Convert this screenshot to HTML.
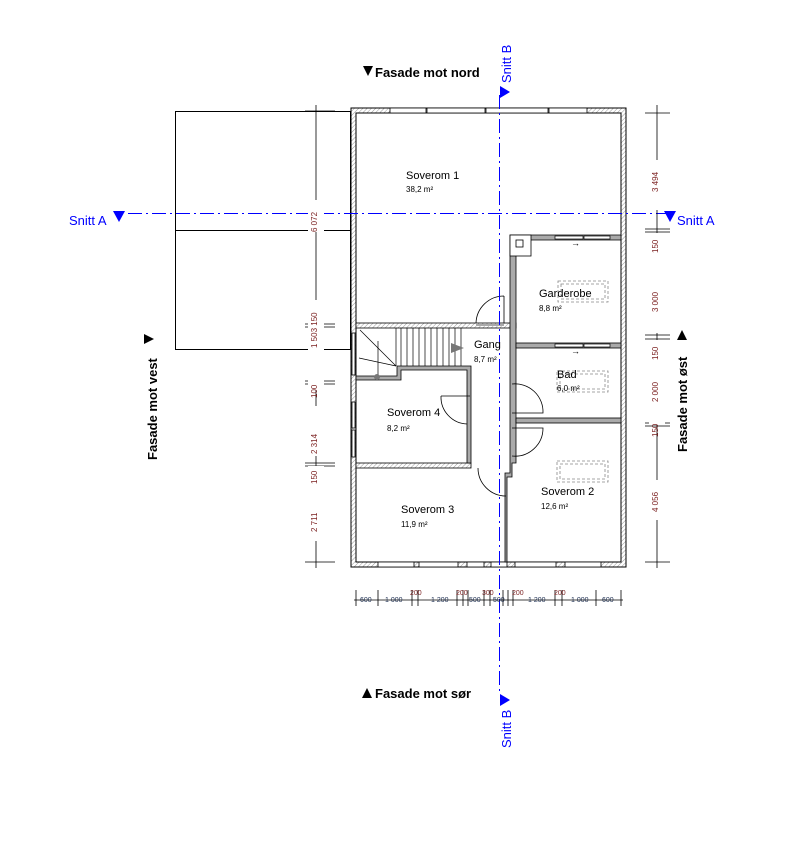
<!DOCTYPE html>
<html><head><meta charset="utf-8"><style>
html,body{margin:0;padding:0;background:#fff}
svg{display:block}
text{font-family:"Liberation Sans",sans-serif}
</style></head><body>
<svg width="787" height="859" viewBox="0 0 787 859" xmlns="http://www.w3.org/2000/svg">
<defs>
<pattern id="h" width="3" height="3" patternUnits="userSpaceOnUse" patternTransform="rotate(45)"><rect width="3" height="3" fill="#fff"/><line x1="0" y1="0" x2="0" y2="3" stroke="#999" stroke-width="1"/></pattern>
</defs>
<!-- left block -->
<rect x="175.5" y="111.5" width="175" height="238" fill="none" stroke="#000"/>
<line x1="175" y1="230.5" x2="351" y2="230.5" stroke="#000"/>
<!-- outer walls -->
<path d="M351,108 H626 V567 H351 Z M356,113 V562 H621 V113 Z" fill="url(#h)" fill-rule="evenodd" stroke="#000" stroke-width="1"/>
<!-- windows top -->
<g fill="#fff" stroke="#000" stroke-width="0.8">
<rect x="390" y="108" width="36" height="5"/><rect x="427" y="108" width="58" height="5"/><rect x="486" y="108" width="62" height="5"/><rect x="549" y="108" width="38" height="5"/>
<rect x="378" y="562" width="36" height="5"/><rect x="419" y="562" width="39" height="5"/><rect x="467" y="562" width="17" height="5"/><rect x="491" y="562" width="16" height="5"/><rect x="515" y="562" width="41" height="5"/><rect x="565" y="562" width="36" height="5"/>
<rect x="352" y="333" width="3" height="42"/><rect x="352" y="402" width="3" height="26"/><rect x="352" y="430" width="3" height="27"/>
</g>
<!-- interior walls -->
<rect x="356" y="323" width="160" height="5" fill="url(#h)" stroke="#000" stroke-width="0.8"/>
<rect x="356" y="463" width="115" height="5" fill="url(#h)" stroke="#000" stroke-width="0.8"/>
<g fill="#aaa" stroke="#000" stroke-width="0.8">
<path d="M510,235 H621 V240 H516 V463 H512 V477 H507 V562 H505 V473 H510 Z"/>
<rect x="516" y="343" width="105" height="5"/>
<rect x="516" y="418" width="105" height="5"/>
<path d="M397,366 H471 V463 H467 V370 H401 V380 H356 V376 H397 Z"/>
</g>
<!-- garderobe chimney -->
<rect x="510" y="235" width="21" height="21" fill="#fff" stroke="#000" stroke-width="0.8"/>
<rect x="516" y="240" width="7" height="7" fill="#fff" stroke="#000" stroke-width="0.8"/>
<!-- sliding doors -->
<g fill="#fff" stroke="#000" stroke-width="0.7">
<rect x="555" y="236" width="28" height="3"/><rect x="584" y="236" width="26" height="3"/>
<rect x="555" y="344" width="28" height="3"/><rect x="584" y="344" width="26" height="3"/>
</g>
<text x="571" y="246" font-size="9">→</text><text x="571" y="354" font-size="9">→</text>
<!-- doors -->
<g fill="none" stroke="#000" stroke-width="0.8">
<path d="M504,296 V323 M476,323 A28,28 0 0 1 504,296"/>
<path d="M441,396 H470 M441,396 A27,27 0 0 0 467,424"/>
<path d="M512,384 A28,28 0 0 1 543,413 H512"/>
<path d="M512,428 H543 A28,28 0 0 1 512,456"/>
<path d="M478,468 A28,28 0 0 0 506,496"/>
</g>
<line x1="476" y1="325" x2="504" y2="325" stroke="#aaa" stroke-width="2"/>
<!-- dashed fixtures -->
<g fill="none" stroke="#888" stroke-dasharray="3,2" stroke-width="0.8">
<rect x="558" y="281" width="50" height="21"/><rect x="561" y="284" width="44" height="15"/>
<rect x="557" y="371" width="51" height="21"/><rect x="560" y="374" width="45" height="15"/>
<rect x="557" y="461" width="51" height="21"/><rect x="560" y="464" width="45" height="15"/>
</g>
<!-- stairs -->
<g stroke="#000" stroke-width="0.7" fill="none">
<path d="M396,328 V366 M401,328 V366 M407,328 V366 M413,328 V366 M419,328 V366 M425,328 V366 M431,328 V366 M437,328 V366 M443,328 V366 M449,328 V366 M455,328 V366 M461,328 V366"/>
<path d="M360,330 L396,366 M359,358 L396,366 M378,341 V376"/>
</g>
<polygon points="451,343 464,348 451,353" fill="#777"/>
<circle cx="377" cy="377" r="3" fill="#777"/>
<!-- section lines -->
<g stroke="#00f" stroke-width="1" stroke-dasharray="14,4,2,4" fill="none">
<line x1="128" y1="213.5" x2="668" y2="213.5"/>
<line x1="499.5" y1="95" x2="499.5" y2="692"/>
</g>
<polygon points="113,211 125,211 119,222" fill="#00f"/>
<polygon points="664,211 676,211 670,222" fill="#00f"/>
<polygon points="500,86 500,98 510,92" fill="#00f"/>
<polygon points="500,694 500,706 510,700" fill="#00f"/>
<text x="69" y="225" font-size="13" fill="#00f">Snitt A</text>
<text x="677" y="225" font-size="13" fill="#00f">Snitt A</text>
<text transform="translate(511,83) rotate(-90)" font-size="13" fill="#00f">Snitt B</text>
<text transform="translate(511,748) rotate(-90)" font-size="13" fill="#00f">Snitt B</text>
<!-- facade labels -->
<polygon points="363,66 373,66 368,76" fill="#000"/>
<text x="375" y="77" font-size="13" font-weight="bold">Fasade mot nord</text>
<polygon points="362,698 372,698 367,688" fill="#000"/>
<text x="375" y="698" font-size="13" font-weight="bold">Fasade mot sør</text>
<text transform="translate(157,460) rotate(-90)" font-size="13" font-weight="bold">Fasade mot vest</text>
<polygon points="144,334 144,344 154,339" fill="#000"/>
<text transform="translate(687,452) rotate(-90)" font-size="13" font-weight="bold">Fasade mot øst</text>
<polygon points="677,340 687,340 682,330" fill="#000"/>
<!-- room labels -->
<g font-size="11"><text x="406" y="179">Soverom 1</text><text x="539" y="297">Garderobe</text><text x="474" y="348">Gang</text><text x="557" y="378">Bad</text><text x="387" y="416">Soverom 4</text><text x="541" y="495">Soverom 2</text><text x="401" y="513">Soverom 3</text></g>
<g font-size="8"><text x="406" y="192">38,2 m²</text><text x="539" y="311">8,8 m²</text><text x="474" y="362">8,7 m²</text><text x="557" y="391">6,0 m²</text><text x="387" y="431">8,2 m²</text><text x="541" y="509">12,6 m²</text><text x="401" y="527">11,9 m²</text></g>
<!-- left dims -->
<g stroke="#000" stroke-width="0.8">
<line x1="316" y1="105" x2="316" y2="568"/>
<path d="M305,111 H335 M305,324 H335 M305,327 H335 M305,381 H335 M305,384 H335 M305,463 H335 M305,466 H335 M305,562 H335"/>
<line x1="657" y1="105" x2="657" y2="568"/>
<path d="M645,113 H670 M645,229 H670 M645,232 H670 M645,335 H670 M645,339 H670 M645,423 H670 M645,426 H670 M645,562 H670"/>
<line x1="354" y1="600" x2="623" y2="600"/>
<path d="M356,590 V606 M378,590 V606 M412,590 V606 M418,590 V606 M457,590 V606 M463,590 V606 M468,590 V606 M484,590 V606 M490,590 V606 M503,590 V606 M508,590 V606 M513,590 V606 M555,590 V606 M562,590 V606 M596,590 V606 M621,590 V606"/>
</g>
<g fill="#fff"><rect x="308" y="200" width="16" height="32"/><rect x="308" y="300" width="16" height="90"/><rect x="308" y="406" width="16" height="50"/><rect x="308" y="466" width="16" height="75"/>
<rect x="649" y="160" width="16" height="50"/><rect x="649" y="233" width="16" height="100"/><rect x="649" y="340" width="16" height="85"/><rect x="649" y="480" width="16" height="40"/></g>
<g font-size="8" fill="#7a1f1f">
<text transform="translate(317,232) rotate(-90)">6 072</text>
<text transform="translate(317,348) rotate(-90)">1 503 150</text>
<text transform="translate(317,398) rotate(-90)">100</text>
<text transform="translate(317,454) rotate(-90)">2 314</text>
<text transform="translate(317,484) rotate(-90)">150</text>
<text transform="translate(317,532) rotate(-90)">2 711</text>
<text transform="translate(658,192) rotate(-90)">3 494</text>
<text transform="translate(658,253) rotate(-90)">150</text>
<text transform="translate(658,312) rotate(-90)">3 000</text>
<text transform="translate(658,360) rotate(-90)">150</text>
<text transform="translate(658,402) rotate(-90)">2 000</text>
<text transform="translate(658,437) rotate(-90)">150</text>
<text transform="translate(658,512) rotate(-90)">4 056</text>
</g>
<g font-size="7">
<text x="360" y="602" fill="#235">600</text><text x="385" y="602" fill="#235">1 000</text><text x="410" y="595" fill="#7a1f1f">200</text><text x="431" y="602" fill="#235">1 200</text><text x="456" y="595" fill="#7a1f1f">200</text><text x="469" y="602" fill="#235">500</text><text x="482" y="595" fill="#7a1f1f">300</text><text x="493" y="602" fill="#235">500</text><text x="512" y="595" fill="#7a1f1f">200</text><text x="528" y="602" fill="#235">1 200</text><text x="554" y="595" fill="#7a1f1f">200</text><text x="571" y="602" fill="#235">1 000</text><text x="602" y="602" fill="#235">600</text>
</g>
</svg>
</body></html>
